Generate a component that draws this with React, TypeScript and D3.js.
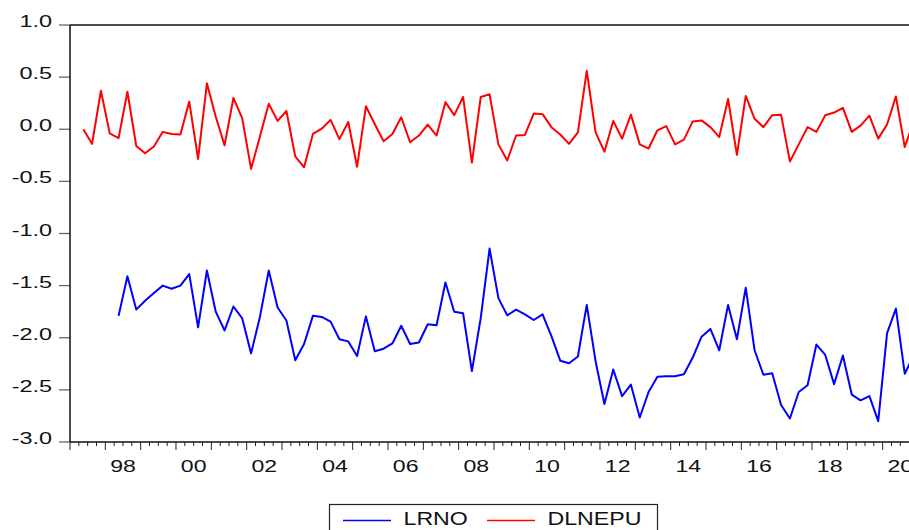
import * as d3 from 'd3';

// quarterly series, index 0 = 1997Q1
const START_YEAR = 1997;

const dlnepuStart = 1; // 1997Q2
const dlnepu = [
  0.0, -0.14, 0.37, -0.04, -0.085, 0.36, -0.16, -0.23, -0.165, -0.025,
  -0.045, -0.05, 0.265, -0.285, 0.44, 0.12, -0.155, 0.3, 0.105, -0.38,
  -0.07, 0.245, 0.08, 0.175, -0.26, -0.365, -0.045, 0.005, 0.09, -0.095,
  0.07, -0.36, 0.22, 0.05, -0.115, -0.045, 0.115, -0.125, -0.06, 0.045,
  -0.06, 0.26, 0.135, 0.31, -0.32, 0.31, 0.335, -0.145, -0.3, -0.06,
  -0.055, 0.15, 0.145, 0.02, -0.05, -0.14, -0.03, 0.56, -0.03, -0.215,
  0.08, -0.09, 0.14, -0.145, -0.185, -0.01, 0.03, -0.145, -0.1, 0.075,
  0.085, 0.02, -0.075, 0.29, -0.245, 0.32, 0.1, 0.02, 0.135, 0.14,
  -0.31, -0.145, 0.02, -0.025, 0.135, 0.16, 0.205, -0.025, 0.035, 0.13,
  -0.09, 0.045, 0.315, -0.17, 0.07,
];

const lrnoStart = 5; // 1998Q2
const lrno = [
  -1.79, -1.41, -1.73, -1.645, -1.57, -1.5, -1.53, -1.5, -1.39, -1.9,
  -1.355, -1.75, -1.93, -1.7, -1.815, -2.15, -1.8, -1.355, -1.71, -1.835,
  -2.215, -2.06, -1.79, -1.8, -1.845, -2.015, -2.035, -2.175, -1.795, -2.13,
  -2.105, -2.055, -1.885, -2.06, -2.045, -1.87, -1.88, -1.47, -1.75, -1.765,
  -2.32, -1.81, -1.145, -1.62, -1.785, -1.73, -1.775, -1.83, -1.775, -1.985,
  -2.22, -2.245, -2.18, -1.685, -2.225, -2.635, -2.305, -2.56, -2.45, -2.765,
  -2.52, -2.375, -2.37, -2.37, -2.35, -2.19, -1.99, -1.915, -2.12, -1.685,
  -2.015, -1.52, -2.12, -2.355, -2.34, -2.645, -2.775, -2.52, -2.455, -2.065,
  -2.165, -2.445, -2.17, -2.545, -2.6, -2.56, -2.8, -1.955, -1.72, -2.345,
  -2.17,
];

const yTicks = [1.0, 0.5, 0.0, -0.5, -1.0, -1.5, -2.0, -2.5, -3.0];
const yearLabels = ['98', '00', '02', '04', '06', '08', '10', '12', '14', '16', '18', '20'];
const seriesNames = ['LRNO', 'DLNEPU'];
const seriesColors = ['#0000ff', '#ff0000'];

const W = 909;
const H = 530;
const left = 70;
const top = 25;
const bottom = 442;
const right = 909;
const FONT = '"Liberation Sans", Arial, sans-serif';

export default function App() {
  const x = d3.scaleLinear().domain([START_YEAR, START_YEAR + 24]).range([left, left + 24 * 35.333]);
  const y = d3.scaleLinear().domain([-3, 1]).range([bottom, top]);

  const qx = (k: number) => x(START_YEAR + (k + 0.5) / 4);

  const line = d3
    .line<[number, number]>()
    .x((d) => qx(d[0]))
    .y((d) => y(d[1]));

  const redPath = line(dlnepu.map((v, i) => [dlnepuStart + i, v] as [number, number])) || '';
  const bluePath = line(lrno.map((v, i) => [lrnoStart + i, v] as [number, number])) || '';

  const quarterTicks: number[] = [];
  for (let q = 0; q <= 96; q++) {
    const px = x(START_YEAR + q / 4);
    if (px <= right) quarterTicks.push(q);
  }

  return (
    <svg width={W} height={H} style={{ position: 'absolute', left: 0, top: 0, background: '#fff' }}>
      <defs>
        <clipPath id="plot">
          <rect x={left} y={top - 5} width={right - left} height={bottom - top + 10} />
        </clipPath>
      </defs>

      {/* y ticks and labels */}
      {yTicks.map((t) => (
        <g key={t}>
          <line x1={59} x2={left} y1={y(t)} y2={y(t)} stroke="#666" strokeWidth={1.3} />
          <text
            transform={`translate(52, ${y(t) + 2}) scale(1.42, 1)`}
            textAnchor="end"
            fontFamily={FONT}
            fontSize={16.5}
            fill="#111"
          >
            {t.toFixed(1)}
          </text>
        </g>
      ))}

      {/* x ticks */}
      {quarterTicks.map((q) => (
        <line
          key={q}
          x1={x(START_YEAR + q / 4)}
          x2={x(START_YEAR + q / 4)}
          y1={bottom}
          y2={bottom + (q % 4 === 0 ? 8 : 4)}
          stroke="#222"
          strokeWidth={1}
        />
      ))}
      {yearLabels.map((lab, i) => (
        <text
          key={lab}
          transform={`translate(${x(1998 + 2 * i + 0.5)}, 472) scale(1.4, 1)`}
          textAnchor="middle"
          fontFamily={FONT}
          fontSize={16.5}
          fill="#111"
        >
          {lab}
        </text>
      ))}

      {/* frame */}
      <line x1={left} x2={right} y1={top} y2={top} stroke="#111" strokeWidth={1.5} />
      <line x1={left} x2={right} y1={bottom} y2={bottom} stroke="#111" strokeWidth={1.5} />
      <line x1={left} x2={left} y1={top} y2={bottom} stroke="#111" strokeWidth={1.5} />

      <g clipPath="url(#plot)">
        <path d={redPath} fill="none" stroke={seriesColors[1]} strokeWidth={2} strokeLinejoin="round" />
        <path d={bluePath} fill="none" stroke={seriesColors[0]} strokeWidth={2} strokeLinejoin="round" />
      </g>

      {/* legend */}
      <rect x={329.5} y={504.5} width={328} height={40} fill="#fff" stroke="#222" strokeWidth={1.2} />
      {seriesNames.map((name, i) => {
        const x0 = i === 0 ? 343 : 487;
        return (
          <g key={name}>
            <line x1={x0} x2={x0 + 48} y1={520.5} y2={520.5} stroke={seriesColors[i]} strokeWidth={1.5} />
            <text
              transform={`translate(${x0 + 60.5}, 524.5) scale(1.22, 1)`}
              fontFamily={FONT}
              fontSize={19}
              fill="#111"
            >
              {name}
            </text>
          </g>
        );
      })}
    </svg>
  );
}
